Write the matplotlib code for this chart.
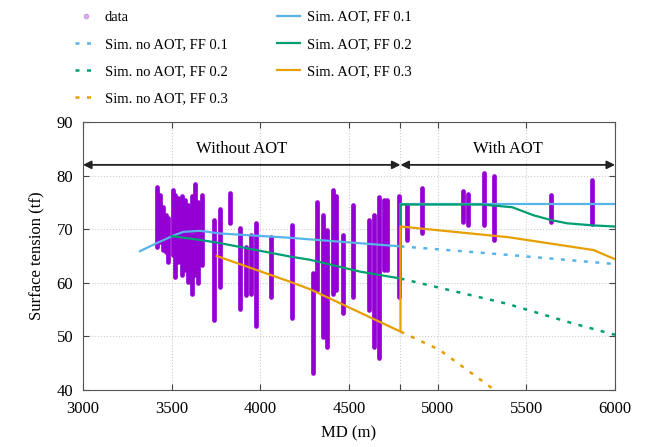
import matplotlib
matplotlib.use("Agg")
import matplotlib.pyplot as plt
from matplotlib.lines import Line2D

plt.rcParams['font.family'] = ['Liberation Serif', 'DejaVu Serif']
plt.rcParams['font.size'] = 12

# measured data: each column of points (depth, lowest, highest)
data_md = [3416, 3434, 3453, 3468, 3481, 3506, 3519, 3537, 3557, 3575, 3594, 3613, 3632, 3650, 3669,
           3740, 3773, 3829, 3885, 3917, 3947, 3974, 4058, 4177,
           4295, 4321, 4352, 4378, 4411, 4425, 4468, 4524, 4614, 4643, 4671, 4697, 4716, 4782,
           4825, 4910, 5144, 5172, 5261, 5318, 5639, 5869]
data_low = [66.7, 67.7, 66.1, 65.8, 63.9, 65.2, 61.1, 63.9, 61.5, 62.4, 60.2, 58.0, 61.5, 59.9, 63.3,
            53.1, 59.3, 71.1, 55.2, 57.7, 58.0, 51.9, 57.4, 53.4,
            43.1, 58.7, 49.9, 48.1, 58.0, 58.7, 54.3, 57.4, 54.9, 48.1, 45.9, 62.4, 62.4, 57.4,
            68.0, 69.2, 71.4, 70.8, 70.8, 68.0, 71.4, 71.0]
data_high = [77.9, 76.4, 74.2, 72.6, 72.0, 77.3, 76.4, 75.8, 76.1, 75.4, 74.5, 76.1, 78.4, 75.1, 76.4,
             71.7, 73.7, 76.8, 70.2, 66.7, 68.9, 71.2, 68.6, 70.8,
             61.8, 75.1, 72.6, 69.9, 77.3, 76.1, 68.9, 74.5, 71.7, 72.6, 76.0, 75.4, 75.4, 76.1,
             74.5, 77.6, 77.2, 76.6, 80.4, 79.9, 76.4, 79.2]

# simulations with AOT
aot1_md = [3321, 3416, 3509, 3566, 3660, 3773, 4167, 4280, 4790, 4790, 6000]
aot1_tf = [65.9, 67.4, 68.8, 69.5, 69.7, 69.2, 68.4, 68.1, 66.8, 74.7, 74.7]
aot2_md = [3500, 3660, 3773, 4167, 4280, 4560, 4790, 4790, 5250, 5420, 5540, 5640, 5730, 5880, 6000]
aot2_tf = [68.7, 68.0, 67.4, 64.9, 64.3, 62.1, 60.8, 74.6, 74.6, 74.1, 72.6, 71.7, 71.1, 70.7, 70.5]
aot3_md = [3754, 4167, 4280, 4468, 4790, 4790, 5400, 5880, 6000]
aot3_tf = [65.0, 60.2, 58.8, 55.9, 50.9, 70.5, 68.5, 66.1, 64.4]

# simulations without AOT (after the switch)
noaot1_md = [4790, 5400, 6000]
noaot1_tf = [66.8, 65.2, 63.5]
noaot2_md = [4790, 5390, 5765, 6000]
noaot2_tf = [60.8, 56.1, 52.4, 50.3]
noaot3_md = [4790, 5010, 5300, 5600, 6000]
noaot3_tf = [50.9, 47.5, 40.5, 33.5, 23.0]

switch_md = 4790
blue, green, orange, purple = '#56b4e9', '#009e73', '#e69f00', '#9400d3'

fig = plt.figure(figsize=(6.52, 4.47), dpi=100)
ax = fig.add_axes([0.1273, 0.1275, 0.816, 0.5996])

vl = ax.vlines(data_md, data_low, data_high, color=purple, lw=3.4, zorder=2)
vl.set_capstyle('round')

dash = (1.6, 3)
ax.plot(noaot1_md, noaot1_tf, color=blue, lw=1.8, dashes=dash, zorder=3)
ax.plot(noaot2_md, noaot2_tf, color=green, lw=1.8, dashes=dash, zorder=3)
ax.plot(noaot3_md, noaot3_tf, color=orange, lw=1.8, dashes=dash, zorder=3)
ax.plot(aot1_md, aot1_tf, color=blue, lw=1.6, zorder=3)
ax.plot(aot2_md, aot2_tf, color=green, lw=1.6, zorder=3)
ax.plot(aot3_md, aot3_tf, color=orange, lw=1.6, zorder=3)

# arrows marking the two zones
arr = dict(arrowstyle='<|-|>', color='#222222', lw=1.3, mutation_scale=12,
           shrinkA=0, shrinkB=0)
ax.annotate('', xy=(3000, 82.0), xytext=(switch_md, 82.0), arrowprops=arr, zorder=4)
ax.annotate('', xy=(switch_md, 82.0), xytext=(6000, 82.0), arrowprops=arr, zorder=4)
ax.text(3895, 84.9, 'Without AOT', ha='center', va='center')
ax.text(5398, 84.9, 'With AOT', ha='center', va='center')

ax.set_xlim(3000, 6000)
ax.set_ylim(40, 90)
xt = [3000, 3500, 4000, 4500, switch_md, 5000, 5500, 6000]
ax.set_xticks(xt)
ax.set_xticklabels(['' if t == switch_md else str(t) for t in xt])
ax.set_yticks(range(40, 91, 10))
ax.tick_params(direction='in', top=True, right=True, length=4, color='#444444')
ax.tick_params(axis='x', pad=8)
ax.tick_params(axis='y', pad=7)
ax.grid(True, color='#cccccc', ls=':', lw=0.8)
ax.set_axisbelow(True)
for s in ax.spines.values():
    s.set_color('#555555')
ax.set_xlabel('MD (m)', labelpad=6)
ax.set_ylabel('Surface tension (tf)', labelpad=8)

handles = [
    Line2D([], [], ls='none', marker='o', ms=3, mfc='#dfb0f0', mec='#d59ce8'),
    Line2D([], [], color=blue, lw=1.8, dashes=dash),
    Line2D([], [], color=green, lw=1.8, dashes=dash),
    Line2D([], [], color=orange, lw=1.8, dashes=dash),
    Line2D([], [], color=blue, lw=1.6),
    Line2D([], [], color=green, lw=1.6),
    Line2D([], [], color=orange, lw=1.6),
]
labels = ['data', 'Sim. no AOT, FF 0.1', 'Sim. no AOT, FF 0.2', 'Sim. no AOT, FF 0.3',
          'Sim. AOT, FF 0.1', 'Sim. AOT, FF 0.2', 'Sim. AOT, FF 0.3']
fig.legend(handles, labels, ncol=2, loc='upper left', bbox_to_anchor=(0.095, 1.006),
           frameon=False, fontsize=10.5, handlelength=1.55, columnspacing=3.4,
           labelspacing=0.95, handletextpad=0.5)

plt.savefig('out.png', dpi=100)
